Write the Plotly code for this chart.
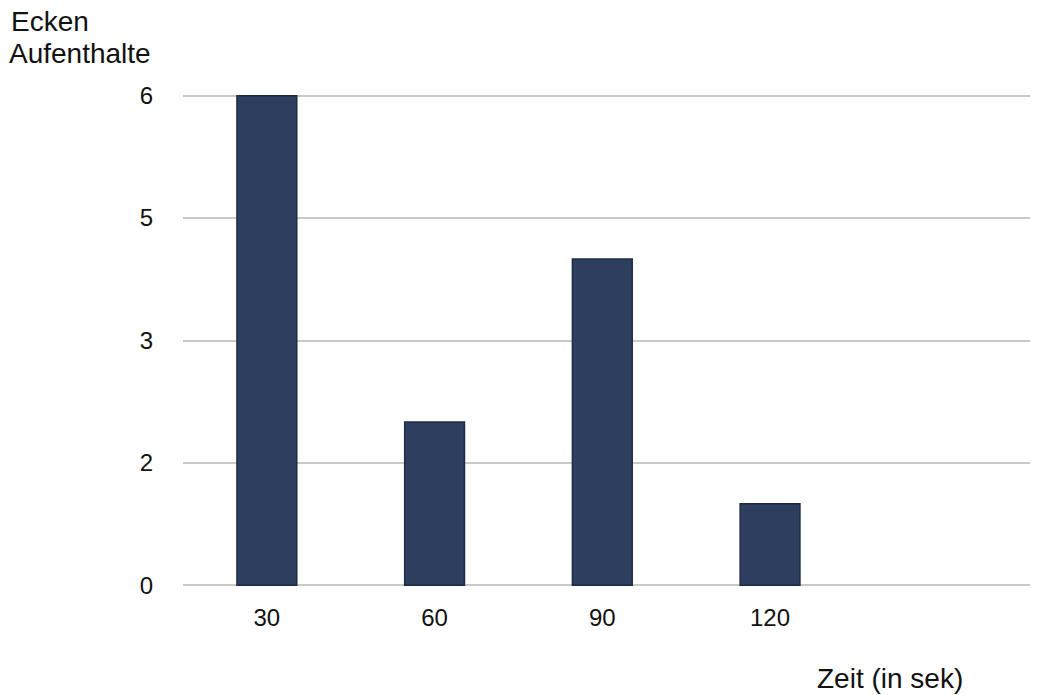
import plotly.graph_objects as go

zeit = [30, 60, 90, 120]
aufenthalte = [6, 2, 4, 1]
y_tick_vals = [0, 1.5, 3, 4.5, 6]
y_tick_text = ["0", "2", "3", "5", "6"]

W, H = 1041, 695
L, R, T, B = 183, 11, 94, 108
pw, ph = W - L - R, H - T - B

def px_x(p):
    return (p - L) / pw

def px_y(p):
    return (H - B - p) / ph

fig = go.Figure()
fig.add_trace(go.Bar(
    x=zeit, y=aufenthalte, width=10.7,
    marker=dict(color="#2d3e5e", line=dict(color="#1f2c45", width=1.5)),
    hoverinfo="x+y",
))

font = dict(family="Liberation Sans, Arial, sans-serif", color="#111111")

fig.update_layout(
    width=W, height=H,
    margin=dict(l=L, r=R, t=T, b=B),
    plot_bgcolor="white", paper_bgcolor="white",
    showlegend=False,
    font=dict(**font, size=24),
    xaxis=dict(
        range=[15, 166.5], tickvals=zeit, ticktext=[str(v) for v in zeit],
        showgrid=False, zeroline=False, showline=False,
        ticks="outside", ticklen=9, tickcolor="rgba(0,0,0,0)",
        tickfont=dict(**font, size=24),
    ),
    yaxis=dict(
        range=[-0.02, 6.02], tickvals=y_tick_vals, ticktext=y_tick_text,
        showgrid=True, gridcolor="#c9c9c9", gridwidth=2,
        zeroline=False, showline=False,
        ticks="outside", ticklen=24, tickcolor="rgba(0,0,0,0)",
        tickfont=dict(**font, size=24),
    ),
    annotations=[
        dict(text="Ecken", xref="paper", yref="paper",
             x=px_x(9), y=px_y(22), xanchor="left", yanchor="middle",
             align="left", showarrow=False, font=dict(**font, size=28)),
        dict(text="Aufenthalte", xref="paper", yref="paper",
             x=px_x(7), y=px_y(53), xanchor="left", yanchor="middle",
             align="left", showarrow=False, font=dict(**font, size=28)),
        dict(text="Zeit (in sek)", xref="paper", yref="paper",
             x=px_x(815), y=px_y(678), xanchor="left", yanchor="middle",
             showarrow=False, font=dict(**font, size=28)),
    ],
)

fig.write_html("out.html")
